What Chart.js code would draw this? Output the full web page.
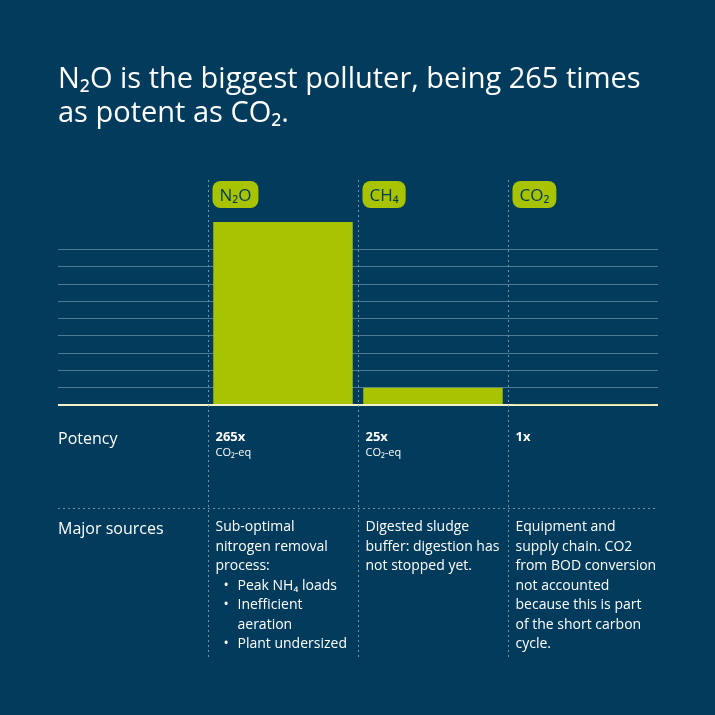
<!DOCTYPE html>
<html>
<head>
<meta charset="utf-8">
<script src="https://cdn.jsdelivr.net/npm/chart.js@4"></script>
<style>
  html, body { margin: 0; padding: 0; background: #033b5c; }
  #wrap { width: 715px; height: 715px; }
</style>
</head>
<body>
<div id="wrap"><canvas id="chart" width="715" height="715"></canvas></div>
<script>
// Chart data
const categories = ['', 'N₂O', 'CH₄', 'CO₂'];
const potency = [null, 265, 25, 1];
const potencyLabels = ['', '265x', '25x', '1x'];
const potencyUnits = ['', 'CO₂-eq', 'CO₂-eq', ''];
const sources = [
    [],
    ['Sub-optimal', 'nitrogen removal', 'process:', '• Peak NH₄ loads', '• Inefficient', '  aeration', '• Plant undersized'],
    ['Digested sludge', 'buffer: digestion has', 'not stopped yet.'],
    ['Equipment and', 'supply chain. CO2', 'from BOD conversion', 'not accounted', 'because this is part', 'of the short carbon', 'cycle.']
];

const FONT = '"Open Sans", "Noto Sans", sans-serif';
const GREEN = '#a8c300';

// Draws title, pills, dotted dividers and the table below the bars
const overlay = {
    id: 'overlay',
    afterDraw(chart) {
        const ctx = chart.ctx;
        const x = chart.scales.x;
        ctx.save();
        ctx.fillStyle = '#ffffff';
        ctx.textBaseline = 'alphabetic';
        ctx.font = '29px ' + FONT;
        ctx.fillText('N₂O is the biggest polluter, being 265 times', 58, 88);
        ctx.fillText('as potent as CO₂.', 58, 122);

        // dotted dividers
        ctx.strokeStyle = '#6f93a8';
        ctx.lineWidth = 1;
        ctx.setLineDash([2, 3]);
        const divs = [];
        for (let i = 1; i < categories.length; i++) {
            const d = Math.round((x.getPixelForValue(i - 1) + x.getPixelForValue(i)) / 2) + 0.5;
            divs.push(d);
            ctx.beginPath(); ctx.moveTo(d, 180); ctx.lineTo(d, 660); ctx.stroke();
        }
        ctx.beginPath(); ctx.moveTo(58, 508.5); ctx.lineTo(658, 508.5); ctx.stroke();
        ctx.setLineDash([]);

        // pills
        ctx.font = '17px ' + FONT;
        for (let i = 1; i < categories.length; i++) {
            const w = ctx.measureText(categories[i]).width + 14;
            const px = divs[i - 1] + 4;
            ctx.fillStyle = GREEN;
            ctx.beginPath(); ctx.roundRect(px, 181, w, 27, 8); ctx.fill();
            ctx.fillStyle = '#033b5c';
            ctx.fillText(categories[i], px + 7, 201);
        }

        // row headers
        ctx.fillStyle = '#ffffff';
        ctx.font = '16px ' + FONT;
        ctx.fillText('Potency', 58, 444);
        ctx.fillText('Major sources', 58, 534);

        for (let i = 1; i < categories.length; i++) {
            const tx = divs[i - 1] + 7;
            ctx.font = 'bold 13px ' + FONT;
            ctx.fillText(potencyLabels[i], tx, 441);
            ctx.font = '11px ' + FONT;
            ctx.fillText(potencyUnits[i], tx, 456);
            ctx.font = '14px ' + FONT;
            sources[i].forEach((line, j) => {
                const y = 531 + j * 19.5;
                if (line.startsWith('• ')) {
                    ctx.fillText('•', tx + 8, y);
                    ctx.fillText(line.slice(2), tx + 22, y);
                } else if (line.startsWith('  ')) {
                    ctx.fillText(line.trim(), tx + 22, y);
                } else {
                    ctx.fillText(line, tx, y);
                }
            });
        }
        ctx.restore();
    }
};

new Chart(document.getElementById('chart'), {
    type: 'bar',
    data: {
        labels: categories,
        datasets: [{
            data: potency,
            backgroundColor: GREEN,
            borderWidth: 0,
            categoryPercentage: 0.93,
            barPercentage: 1
        }]
    },
    options: {
        responsive: false,
        animation: false,
        layout: { padding: { left: 58, right: 57, top: 222, bottom: 302 } },
        plugins: { legend: { display: false }, tooltip: { enabled: false } },
        scales: {
            x: {
                grid: { display: false },
                border: { display: false },
                ticks: { display: false }
            },
            y: {
                min: 0,
                max: 265,
                afterBuildTicks: (s) => { s.ticks = s.ticks.filter(t => t.value % 25 === 0); },
                ticks: { display: false, stepSize: 25 },
                border: { display: false },
                grid: {
                    color: (c) => c.tick && c.tick.value === 0 ? '#f4f1c8' : '#4f7a93',
                    lineWidth: (c) => c.tick && c.tick.value === 0 ? 2 : 1,
                    drawTicks: false
                }
            }
        }
    },
    plugins: [overlay]
});
</script>
</body>
</html>
